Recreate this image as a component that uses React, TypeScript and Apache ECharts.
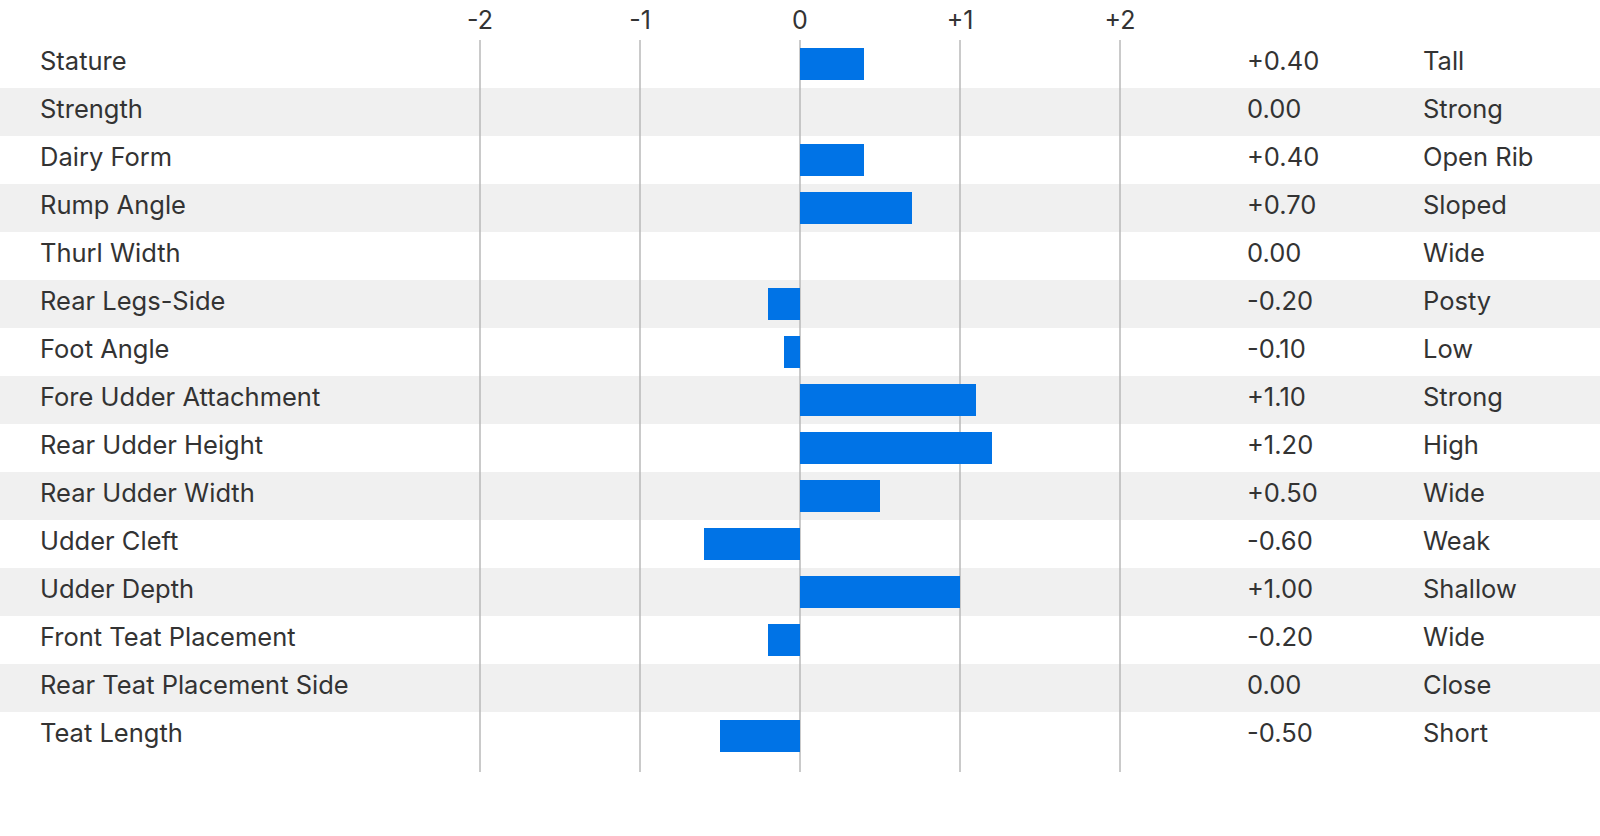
import React, { useEffect, useRef } from "react";
import * as echarts from "echarts";

const traits = [
  "Stature",
  "Strength",
  "Dairy Form",
  "Rump Angle",
  "Thurl Width",
  "Rear Legs-Side",
  "Foot Angle",
  "Fore Udder Attachment",
  "Rear Udder Height",
  "Rear Udder Width",
  "Udder Cleft",
  "Udder Depth",
  "Front Teat Placement",
  "Rear Teat Placement Side",
  "Teat Length",
];
const values = [0.4, 0, 0.4, 0.7, 0, -0.2, -0.1, 1.1, 1.2, 0.5, -0.6, 1.0, -0.2, 0, -0.5];
const descriptors = [
  "Tall",
  "Strong",
  "Open Rib",
  "Sloped",
  "Wide",
  "Posty",
  "Low",
  "Strong",
  "High",
  "Wide",
  "Weak",
  "Shallow",
  "Wide",
  "Close",
  "Short",
];
const tickValues = [-2, -1, 0, 1, 2];

const FONT = "Inter";
const FS = 25.5;
const TXT = "#333333";

function fmtValue(v: number): string {
  if (v > 0) return "+" + v.toFixed(2);
  if (v < 0) return "-" + Math.abs(v).toFixed(2);
  return "0.00";
}
function fmtTick(v: number): string {
  if (v > 0) return "+" + v;
  return String(v);
}

export default function App() {
  const ref = useRef<HTMLDivElement>(null);
  useEffect(() => {
    if (!ref.current) return;
    const chart = echarts.init(ref.current, undefined, { renderer: "svg" });
    const rightLabels = values.map((v, i) => fmtValue(v) + "|" + descriptors[i]);
    chart.setOption({
      animation: false,
      backgroundColor: "#ffffff",
      grid: [
        { left: 0, right: 0, top: 40, height: 720 },
        { left: 480, width: 640, top: 40, height: 732 },
        { left: 480, width: 640, top: 40, height: 720 },
      ],
      xAxis: [
        { gridIndex: 0, type: "value", min: 0, max: 1, show: false },
        {
          gridIndex: 1,
          type: "value",
          position: "top",
          min: tickValues[0],
          max: tickValues[tickValues.length - 1],
          interval: 1,
          z: 1,
          axisLine: { show: false },
          axisTick: { show: false },
          axisLabel: {
            margin: 8,
            fontFamily: FONT,
            fontSize: 25,
            color: TXT,
            formatter: (v: number) => fmtTick(v),
          },
          splitLine: { show: true, lineStyle: { color: "#b8b8b8", width: 1.5 } },
        },
        {
          gridIndex: 2,
          type: "value",
          min: tickValues[0],
          max: tickValues[tickValues.length - 1],
          show: false,
        },
      ],
      yAxis: [
        {
          gridIndex: 0,
          type: "category",
          inverse: true,
          data: traits,
          axisLine: { show: false },
          axisTick: { show: false },
          splitArea: { show: true, areaStyle: { color: ["#ffffff", "#f0f0f0"] } },
          axisLabel: {
            inside: true,
            margin: 40,
            align: "left",
            padding: [0, 0, 8, 0],
            formatter: (s: string) => "{t|" + s + "}",
            rich: {
              t: { fontFamily: FONT, fontSize: FS, color: TXT },
            },
          },
        },
        {
          gridIndex: 0,
          type: "category",
          position: "right",
          inverse: true,
          data: rightLabels,
          axisLine: { show: false },
          axisTick: { show: false },
          axisLabel: {
            inside: true,
            margin: 353,
            align: "left",
            padding: [0, 0, 8, 0],
            formatter: (s: string) => {
              const [a, b] = s.split("|");
              return "{v|" + a + "}{d|" + b + "}";
            },
            rich: {
              v: { width: 176, fontFamily: FONT, fontSize: FS, color: TXT },
              d: { fontFamily: FONT, fontSize: FS, color: TXT },
            },
          },
        },
        { gridIndex: 1, type: "category", data: [""], show: false },
        { gridIndex: 2, type: "category", inverse: true, data: traits, show: false },
      ],
      series: [
        {
          type: "bar",
          xAxisIndex: 2,
          yAxisIndex: 3,
          data: values,
          barWidth: 32,
          itemStyle: { color: "#0073e6" },
          z: 3,
        },
      ],
    });
    return () => chart.dispose();
  }, []);
  return (
    <div
      ref={ref}
      style={{ position: "fixed", left: 0, top: 0, width: 1600, height: 836 }}
    />
  );
}
